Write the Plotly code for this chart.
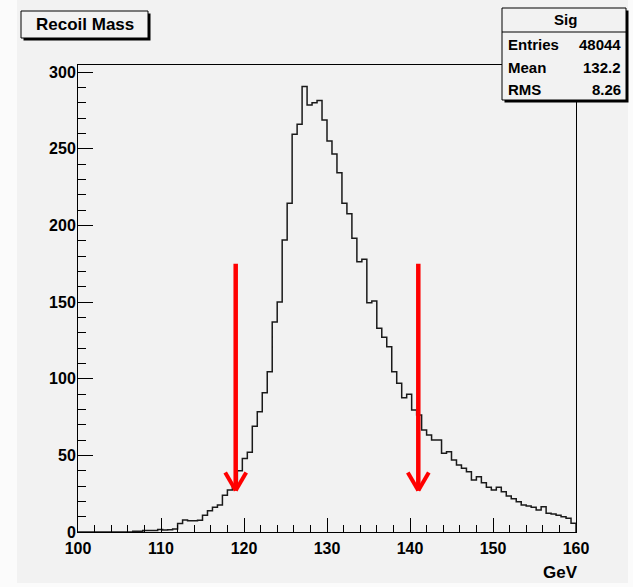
import plotly.graph_objects as go

# ---------------- data ----------------
x_min, x_max = 100.0, 160.0
n_bins = 100
counts = [
    0, 0, 0, 0, 0, 0, 0, 0, 0, 0,
    0, 0.5, 0.5, 1, 1, 1, 1.7, 1.3, 1.5, 2,
    5.5, 7.8, 7.4, 7.4, 7.6, 11, 13.9, 16.1, 17.6, 24,
    27.4, 30.7, 40, 48, 52, 69, 78.5, 90.9, 104.6, 137,
    150, 190.5, 214.4, 259.4, 266, 290.5, 278.5, 280, 281.4, 268.7,
    255, 246.6, 234.4, 214.4, 207.6, 191.6, 176.3, 177.9, 149.6, 150.7,
    132.9, 127, 120.9, 104.6, 97, 87.6, 89.8, 79.6, 76.3, 66.5,
    63.3, 60, 60, 51.3, 52.3, 47, 43.7, 41.5, 39.3, 33.9,
    36.1, 32.2, 29.2, 27.4, 29.2, 26.3, 23.5, 21.7, 19.8, 17.6,
    17, 16.1, 14.4, 16.5, 12.2, 11.7, 10.9, 10, 8.9, 5.7,
]
x_tick_vals = [100, 110, 120, 130, 140, 150, 160]
y_tick_vals = [0, 50, 100, 150, 200, 250, 300]
y_max = 304.6
cut_values = [119.0, 141.0]
arrow_top = 175.0
arrow_tip = 27.0
title_text = "Recoil Mass"
stats_name = "Sig"
stats_labels = ["Entries", "Mean", "RMS"]
stats_values = ["48044", "132.2", "8.26"]
x_title = "GeV"

# ---------------- layout geometry ----------------
W, H = 633, 587
L, R, T, B = 78, 57, 65, 55
pw, ph = W - L - R, H - T - B
FONT = "Liberation Sans Narrow, Liberation Sans, Arial, sans-serif"
BG = "#f2f2f2"


def px(x):
    return (x - L) / pw


def py(y):
    return (H - B - y) / ph


width = (x_max - x_min) / n_bins
edges = [x_min + i * width for i in range(n_bins)]
xs = edges + [x_max, x_max]
ys = counts + [counts[-1], 0]

fig = go.Figure()
fig.add_trace(go.Scatter(
    x=xs, y=ys, mode="lines", line=dict(shape="hv", color="#1a1a1a", width=1.5),
    hoverinfo="skip", showlegend=False,
))

shapes = []
# canvas background
shapes.append(dict(type="rect", xref="paper", yref="paper", layer="below",
                   x0=px(17), x1=px(628), y0=py(583), y1=py(0),
                   fillcolor=BG, line=dict(width=0)))

# red cut arrows
gev_per_px = (x_max - x_min) / pw
cnt_per_px = y_max / ph
hw = 10.5 * gev_per_px
hh = 18 * cnt_per_px
for c in cut_values:
    shapes.append(dict(type="line", xref="x", yref="y", x0=c, x1=c, y0=arrow_top, y1=arrow_tip,
                       line=dict(color="#ff0000", width=4.5)))
    shapes.append(dict(type="line", xref="x", yref="y", x0=c - hw, x1=c, y0=arrow_tip + hh, y1=arrow_tip,
                       line=dict(color="#ff0000", width=4)))
    shapes.append(dict(type="line", xref="x", yref="y", x0=c + hw, x1=c, y0=arrow_tip + hh, y1=arrow_tip,
                       line=dict(color="#ff0000", width=4)))


def box(x0, y0, x1, y1):
    # shadow
    shapes.append(dict(type="rect", xref="paper", yref="paper", layer="above",
                       x0=px(x0 + 2.5), x1=px(x1 + 2.5), y0=py(y1 + 2.5), y1=py(y0 + 2.5),
                       fillcolor="#000000", line=dict(width=0)))
    shapes.append(dict(type="rect", xref="paper", yref="paper", layer="above",
                       x0=px(x0), x1=px(x1), y0=py(y1), y1=py(y0),
                       fillcolor=BG, line=dict(color="#000000", width=1)))


box(21, 11, 148, 38)
box(502, 8, 626, 100)
shapes.append(dict(type="line", xref="paper", yref="paper", layer="above",
                   x0=px(502), x1=px(626), y0=py(32), y1=py(32),
                   line=dict(color="#000000", width=1)))

ann = []
ann.append(dict(text="<b>%s</b>" % title_text, xref="paper", yref="paper",
                x=px(85), y=py(24.5), xanchor="center", yanchor="middle", showarrow=False,
                font=dict(family=FONT, size=17, color="#000")))
ann.append(dict(text="<b>%s</b>" % stats_name, xref="paper", yref="paper",
                x=px(565), y=py(20), xanchor="center", yanchor="middle", showarrow=False,
                font=dict(family=FONT, size=15, color="#000")))
row_y = [44, 67, 89]
for lab, val, yy in zip(stats_labels, stats_values, row_y):
    ann.append(dict(text="<b>%s</b>" % lab, xref="paper", yref="paper",
                    x=px(506), y=py(yy), xanchor="left", yanchor="middle", showarrow=False,
                    font=dict(family=FONT, size=15, color="#000")))
    ann.append(dict(text="<b>%s</b>" % val, xref="paper", yref="paper",
                    x=px(623), y=py(yy), xanchor="right", yanchor="middle", showarrow=False,
                    font=dict(family=FONT, size=15, color="#000")))
ann.append(dict(text="<b>%s</b>" % x_title, xref="paper", yref="paper",
                x=px(580), y=py(572), xanchor="right", yanchor="middle", showarrow=False,
                font=dict(family=FONT, size=17, color="#000")))

tickfont = dict(family=FONT, size=16, color="#000", weight="bold")
fig.update_layout(
    width=W, height=H, autosize=False,
    margin=dict(l=L, r=R, t=T, b=B, pad=0),
    paper_bgcolor="#fbfbfb", plot_bgcolor=BG,
    shapes=shapes, annotations=ann, showlegend=False,
    xaxis=dict(range=[x_min, x_max], tickvals=x_tick_vals, ticks="inside", ticklen=14,
               tickwidth=1, tickcolor="#000", showline=True, linecolor="#000", linewidth=1,
               mirror=True, showgrid=False, zeroline=False, tickfont=tickfont,
               ticklabelstandoff=2,
               minor=dict(dtick=2, ticks="inside", ticklen=7, tickwidth=1, tickcolor="#000", showgrid=False)),
    yaxis=dict(range=[0, y_max], tickvals=y_tick_vals, ticks="inside", ticklen=15,
               tickwidth=1, tickcolor="#000", showline=True, linecolor="#000", linewidth=1,
               mirror=True, showgrid=False, zeroline=False, tickfont=tickfont,
               ticklabelstandoff=-2,
               minor=dict(dtick=10, ticks="inside", ticklen=8, tickwidth=1, tickcolor="#000", showgrid=False)),
)

fig.write_html("out.html")
